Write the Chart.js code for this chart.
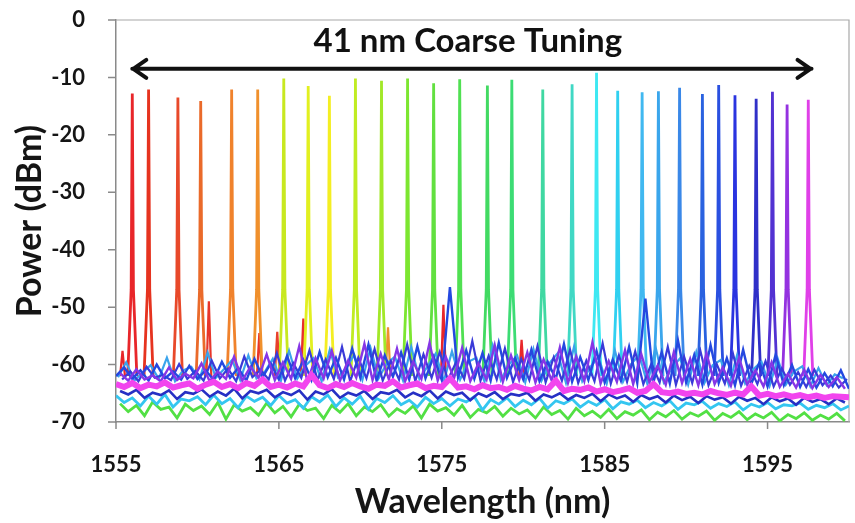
<!DOCTYPE html>
<html>
<head>
<meta charset="utf-8">
<script src="https://cdn.jsdelivr.net/npm/chart.js@4.4.1/dist/chart.umd.min.js"></script>
<style>
  html, body { margin: 0; padding: 0; background: #fff; }
  #wrap { width: 855px; height: 523px; }
</style>
</head>
<body>
<div id="wrap"><canvas id="spectrum"></canvas></div>
<script>
// axis ticks
const xTicks = [1555, 1565, 1575, 1585, 1595];
const yMin = -70;
const yMax = 0;

// lasing peaks (nm, dBm) left to right
const peakWl = [1556.0, 1557.0, 1558.8, 1560.2, 1562.1, 1563.7, 1565.3, 1566.8, 1568.1, 1569.7,
                1571.3, 1572.9, 1574.5, 1576.1, 1577.8, 1579.3, 1581.2, 1583.0, 1584.5, 1585.8,
                1587.3, 1588.3, 1589.6, 1591.0, 1592.0, 1593.0, 1594.3, 1595.3, 1596.2, 1597.5];
const peakPow = [-12.8, -12.1, -13.5, -14.1, -12.1, -12.1, -10.2, -11.5, -13.2, -10.2,
                 -10.6, -10.2, -11.0, -10.3, -11.4, -10.4, -12.1, -11.2, -9.2, -12.3,
                 -12.6, -12.4, -11.8, -12.9, -11.3, -13.1, -13.7, -12.5, -14.7, -13.9];
const peakColors = ['#e8262a', '#e6331f', '#e8492a', '#ea6a2a', '#f0822c', '#f0902c', '#c8e820', '#e2f020', '#f4ee22', '#c0ec22',
                    '#a2e828', '#7ce630', '#62e040', '#50e052', '#42da62', '#3cdc74', '#40d8a2', '#40d8c4', '#3ee8f2', '#30d0f0',
                    '#40b8f0', '#3aa6ec', '#3a88e8', '#2a62e0', '#2a50e0', '#2a34e0', '#3030c8', '#5232d2', '#9432e0', '#e040e8'];

// line shape of one peak: offsets in nm and the levels at foot and shoulder
const shapeDx = [-0.28, -0.07, 0, 0.07, 0.28];
const shapeFoot = -62;
const shapeShoulder = -47;

// weak side modes
const sideWl = [1555.4, 1560.7, 1563.8, 1564.9, 1566.5, 1571.7, 1575.1, 1579.9];
const sidePow = [-57.6, -49.0, -54.5, -54.3, -52.0, -53.5, -49.6, -55.7];
const sideColors = ['#e8262a', '#e8362a', '#e8362a', '#e8402a', '#e8302a', '#f0902c', '#e8262a', '#e8262a'];
const sideDx = [-0.15, 0, 0.15];

// noise floors, one value every 0.5 nm
const floorStep = 0.5;
const magentaFloor = [
  -63.4, -63.9, -63.2, -64.1, -63.5, -63.8, -63.1, -64.0, -63.6, -63.3,
  -64.2, -63.5, -63.0, -63.9, -63.4, -64.1, -63.2, -63.7, -62.6, -63.9,
  -63.5, -64.0, -63.3, -63.8, -61.8, -63.6, -64.1, -63.4, -63.9, -63.2,
  -63.8, -64.2, -63.5, -63.7, -62.9, -64.0, -63.6, -63.3, -64.1, -63.7,
  -63.9, -62.4, -64.0, -63.8, -64.3, -63.6, -64.1, -63.9, -64.4, -63.7,
  -64.2, -64.5, -63.9, -64.3, -62.8, -64.6, -64.2, -64.4, -64.0, -64.7,
  -64.3, -64.8, -64.5, -64.1, -64.9, -64.6, -63.4, -64.8, -65.0, -64.7,
  -65.1, -64.9, -65.2, -64.6, -65.0, -65.3, -64.9, -65.2, -63.8, -65.4,
  -65.1, -65.5, -65.2, -65.6, -65.3, -65.7, -65.4, -65.8, -65.5, -65.6,
  -65.7];
const blueFloor = [
  -62.0, -60.5, -62.5, -61.0, -62.8, -60.0, -62.4, -61.2, -62.6, -60.2,
  -62.5, -61.0, -62.7, -59.5, -62.3, -60.6, -62.8, -59.0, -62.2, -59.8,
  -62.6, -58.5, -62.4, -59.2, -62.7, -57.8, -62.2, -58.8, -62.6, -57.2,
  -62.3, -56.5, -62.8, -58.4, -62.1, -57.9, -62.6, -56.8, -62.4, -58.6,
  -62.7, -46.5, -62.2, -57.5, -62.5, -58.0, -62.8, -56.2, -62.3, -58.9,
  -62.6, -57.4, -62.9, -59.5, -62.5, -56.4, -63.0, -58.7, -62.7, -57.6,
  -63.1, -59.2, -62.8, -56.9, -63.2, -48.5, -63.0, -57.8, -63.3, -55.8,
  -63.1, -58.3, -63.5, -56.6, -63.2, -58.9, -63.6, -57.4, -63.4, -59.6,
  -63.8, -58.2, -63.6, -60.1, -63.9, -60.8, -64.0, -61.5, -63.8, -61.0,
  -64.2];
const cyanFloor = [
  -65.4, -66.6, -65.8, -67.2, -65.5, -66.9, -65.2, -67.4, -66.0, -66.3,
  -65.6, -67.0, -65.3, -66.8, -65.9, -67.5, -65.5, -66.4, -65.7, -67.1,
  -65.4, -66.7, -66.1, -67.6, -65.6, -66.5, -65.3, -67.3, -65.8, -66.9,
  -65.5, -67.8, -65.9, -66.6, -65.4, -67.0, -66.2, -67.4, -65.7, -66.8,
  -65.9, -67.2, -66.0, -66.5, -65.6, -67.9, -66.1, -66.9, -65.8, -67.3,
  -66.2, -67.0, -65.9, -67.6, -66.3, -66.8, -66.0, -67.4, -66.4, -67.1,
  -66.1, -67.7, -66.5, -66.9, -66.2, -67.5, -66.6, -67.2, -66.3, -67.8,
  -66.7, -67.0, -66.4, -67.6, -66.8, -67.3, -66.5, -67.9, -66.9, -67.4,
  -66.6, -67.7, -67.0, -67.2, -66.7, -67.8, -67.1, -67.5, -66.8, -67.9,
  -67.2];
// these start at 1555.25, half way between the ones above
const purpleFloor = [
  -61.5, -62.8, -60.8, -62.6, -61.9, -62.9, -60.5, -62.7, -61.6, -62.4,
  -59.8, -62.9, -61.2, -62.5, -58.6, -62.8, -60.4, -62.3, -58.2, -62.7,
  -59.6, -62.5, -56.8, -62.9, -58.9, -62.4, -57.6, -62.8, -59.3, -62.3,
  -56.4, -62.7, -58.1, -62.6, -57.2, -62.9, -59.5, -62.5, -56.2, -62.8,
  -58.7, -62.4, -57.1, -62.9, -59.8, -62.6, -56.6, -63.0, -58.4, -62.7,
  -57.9, -63.1, -59.1, -62.8, -57.0, -63.2, -58.6, -62.9, -56.1, -63.3,
  -59.4, -63.0, -57.5, -63.4, -58.2, -63.1, -60.2, -63.5, -57.8, -63.2,
  -59.0, -63.6, -58.0, -63.4, -60.5, -63.7, -58.8, -63.5, -61.0, -63.8,
  -59.6, -63.9, -61.6, -64.0, -60.9, -64.1, -61.8, -63.9, -62.2, -64.2];
const indigoFloor = [
  -64.6, -65.2, -64.4, -65.8, -64.9, -65.3, -64.5, -66.0, -64.8, -65.1,
  -64.3, -65.6, -64.7, -65.4, -64.2, -65.9, -64.6, -65.0, -64.4, -65.7,
  -64.8, -65.3, -64.5, -66.1, -64.7, -65.2, -64.3, -65.8, -64.9, -65.4,
  -64.6, -66.0, -64.8, -65.1, -64.4, -65.7, -64.9, -65.5, -64.5, -65.9,
  -64.7, -65.3, -64.9, -66.2, -65.0, -65.6, -64.8, -66.0, -65.1, -65.4,
  -64.9, -66.3, -65.2, -65.7, -65.0, -66.1, -65.3, -65.8, -65.1, -66.4,
  -65.2, -65.9, -65.4, -66.5, -65.3, -66.0, -65.5, -66.6, -65.4, -66.2,
  -65.6, -66.7, -65.5, -66.1, -65.7, -66.8, -65.6, -66.3, -65.8, -66.9,
  -65.7, -66.4, -65.9, -67.0, -65.8, -66.5, -66.0, -66.9, -65.9, -66.6];
const greenFloor = [
  -66.8, -68.2, -67.1, -68.9, -66.5, -67.8, -67.4, -69.3, -66.9, -68.0,
  -67.2, -68.7, -66.6, -69.5, -67.0, -68.1, -67.5, -68.8, -66.7, -68.4,
  -67.3, -69.1, -66.9, -68.0, -67.6, -69.4, -67.1, -68.3, -66.8, -68.9,
  -67.4, -68.2, -67.0, -69.0, -67.7, -68.5, -67.2, -69.3, -66.9, -68.1,
  -67.5, -68.8, -67.1, -69.2, -67.8, -68.4, -67.3, -69.0, -67.6, -68.6,
  -67.9, -69.3, -67.4, -68.7, -68.0, -69.5, -67.6, -68.9, -68.1, -69.2,
  -67.8, -69.4, -68.2, -68.8, -67.9, -69.6, -68.3, -69.1, -68.0, -69.5,
  -68.4, -69.0, -68.1, -69.7, -68.5, -69.2, -68.2, -69.6, -68.6, -69.3,
  -68.3, -69.8, -68.7, -69.4, -68.4, -69.7, -68.8, -69.5, -68.5, -69.8];
// start at 1555.125
const skyFloor = [
  -62.2, -59.6, -62.8, -61.4, -60.1, -62.5, -58.8, -62.9, -61.0, -60.4,
  -62.6, -57.9, -62.3, -60.8, -59.2, -62.7, -58.4, -62.4, -61.3, -59.0,
  -62.8, -57.6, -62.5, -60.2, -58.9, -62.9, -57.4, -62.2, -60.6, -58.3,
  -62.7, -57.1, -62.4, -59.8, -58.6, -62.8, -56.9, -62.5, -60.3, -58.1,
  -62.9, -57.7, -62.6, -59.5, -58.8, -63.0, -56.7, -62.7, -60.0, -58.4,
  -63.1, -57.3, -62.8, -59.7, -58.0, -63.2, -56.8, -62.9, -60.4, -58.7,
  -63.3, -57.5, -63.0, -59.9, -58.3, -63.4, -57.0, -63.1, -60.6, -58.9,
  -63.5, -57.8, -63.2, -60.1, -59.2, -63.6, -58.4, -63.3, -60.8, -59.5,
  -63.7, -59.0, -63.5, -61.2, -60.3, -63.8, -60.6, -63.6, -61.7, -62.4];
// start at 1555.375
const violetFloor = [
  -62.6, -61.2, -62.9, -60.4, -62.3, -61.8, -62.7, -59.9, -62.5, -61.1,
  -62.8, -59.3, -62.4, -60.7, -62.9, -58.6, -62.2, -60.9, -62.6, -58.0,
  -62.8, -59.7, -62.3, -57.5, -62.7, -59.1, -62.5, -56.9, -62.9, -58.8,
  -62.4, -57.3, -62.8, -59.4, -62.6, -56.5, -62.9, -58.2, -62.3, -57.8,
  -62.7, -59.6, -62.5, -55.9, -62.8, -58.5, -62.6, -57.2, -63.0, -59.0,
  -62.7, -56.8, -63.1, -58.7, -62.8, -57.4, -63.2, -59.3, -62.9, -56.3,
  -63.3, -58.4, -63.0, -57.7, -63.4, -59.8, -63.1, -56.9, -63.5, -58.6,
  -63.2, -57.6, -63.6, -59.9, -63.3, -58.1, -63.7, -60.2, -63.4, -59.4,
  -63.8, -60.7, -63.5, -61.3, -63.9, -60.9, -63.6, -61.9, -64.0, -62.5];

// arrow and its label (in data units)
const arrowFrom = 1556.0;
const arrowTo = 1597.7;
const arrowLevel = -8.5;
const bannerText = '41 nm Coarse Tuning';
const bannerWl = 1576.6;
const bannerLevel = -3.8;

function floorPoints(values, start) {
    return values.map((v, i) => ({ x: start + i * floorStep, y: v }));
}

function linePoints(wl, top) {
    const levels = [shapeFoot, shapeShoulder, top, shapeShoulder, shapeFoot];
    return shapeDx.map((dx, i) => ({ x: wl + dx, y: levels[i] }));
}

function sidePoints(wl, top) {
    const levels = [shapeFoot, top, shapeFoot];
    return sideDx.map((dx, i) => ({ x: wl + dx, y: levels[i] }));
}

function floorSet(values, start, color, width) {
    return {
        data: floorPoints(values, start),
        borderColor: color,
        borderWidth: width,
        pointRadius: 0
    };
}

// first in the list is drawn on top
const datasets = [
    floorSet(magentaFloor, 1555, '#f244ee', 6),
    floorSet(purpleFloor, 1555.25, '#8636e6', 2.4),
    floorSet(blueFloor, 1555, '#2448e0', 2.4),
    floorSet(violetFloor, 1555.375, '#3a3ad8', 2.2),
    floorSet(skyFloor, 1555.125, '#3aa4ec', 2.2),
    floorSet(indigoFloor, 1555.25, '#2630c4', 2.6)
];

peakWl.forEach((wl, i) => {
    datasets.push({
        data: linePoints(wl, peakPow[i]),
        borderColor: peakColors[i],
        borderWidth: 2.8,
        pointRadius: 0
    });
});

sideWl.forEach((wl, i) => {
    datasets.push({
        data: sidePoints(wl, sidePow[i]),
        borderColor: sideColors[i],
        borderWidth: 2.2,
        pointRadius: 0
    });
});

datasets.push(floorSet(cyanFloor, 1555, '#34c6f0', 2.8));
datasets.push(floorSet(greenFloor, 1555.25, '#52e044', 2.8));

const axisGrey = '#8a8a8a';

const overlay = {
    id: 'overlay',
    beforeDatasetsDraw(chart) {
        const { ctx, chartArea: a, scales: { x, y } } = chart;
        ctx.save();
        ctx.strokeStyle = '#a8a8a8';
        ctx.lineWidth = 1.2;
        ctx.beginPath();
        ctx.moveTo(a.left, a.top);
        ctx.lineTo(a.right, a.top);
        ctx.lineTo(a.right, a.bottom);
        ctx.stroke();

        // short tick marks (the scale's own ticks are long and hidden to push the labels out)
        ctx.strokeStyle = axisGrey;
        ctx.lineWidth = 1.5;
        ctx.beginPath();
        x.ticks.forEach(t => {
            const px = x.getPixelForValue(t.value);
            ctx.moveTo(px, a.bottom);
            ctx.lineTo(px, a.bottom + 7);
        });
        y.ticks.forEach(t => {
            const py = y.getPixelForValue(t.value);
            ctx.moveTo(a.left - 8, py);
            ctx.lineTo(a.left, py);
        });
        ctx.stroke();
        ctx.restore();
    },
    afterDatasetsDraw(chart) {
        const { ctx, scales: { x, y } } = chart;
        const x1 = x.getPixelForValue(arrowFrom);
        const x2 = x.getPixelForValue(arrowTo);
        const yy = y.getPixelForValue(arrowLevel);

        ctx.save();
        ctx.strokeStyle = '#111';
        ctx.lineWidth = 4;
        ctx.lineCap = 'round';
        ctx.lineJoin = 'round';
        ctx.beginPath();
        ctx.moveTo(x1, yy);
        ctx.lineTo(x2, yy);
        ctx.moveTo(x1 + 14, yy - 9);
        ctx.lineTo(x1 + 1, yy);
        ctx.lineTo(x1 + 14, yy + 9);
        ctx.moveTo(x2 - 14, yy - 9);
        ctx.lineTo(x2 - 1, yy);
        ctx.lineTo(x2 - 14, yy + 9);
        ctx.stroke();

        ctx.fillStyle = '#111';
        ctx.font = 'bold 33px Lato';
        ctx.textAlign = 'center';
        ctx.textBaseline = 'middle';
        ctx.fillText(bannerText, x.getPixelForValue(bannerWl), y.getPixelForValue(bannerLevel));
        ctx.restore();
    }
};

const tickFont = { family: 'Lato', size: 22, weight: 'bold' };
const titleFont = { family: 'Lato', size: 34, weight: 'bold' };

new Chart(document.getElementById('spectrum'), {
    type: 'line',
    data: { datasets },
    options: {
        animation: false,
        responsive: true,
        maintainAspectRatio: false,
        layout: { padding: { top: 20, right: 6, left: 0, bottom: 0 } },
        elements: { line: { tension: 0 } },
        plugins: {
            legend: { display: false },
            tooltip: { enabled: false }
        },
        scales: {
            x: {
                type: 'linear',
                min: 1555,
                max: 1600,
                afterBuildTicks: s => { s.ticks = xTicks.map(v => ({ value: v })); },
                afterFit: s => { s.height = 101; },
                ticks: { font: tickFont, color: '#151515', padding: 0, maxRotation: 0, callback: v => String(v) },
                grid: { drawOnChartArea: false, tickLength: 30, tickColor: 'rgba(0,0,0,0)' },
                border: { color: axisGrey, width: 1.5 },
                title: { display: true, text: 'Wavelength (nm)', font: titleFont, color: '#151515', padding: { top: 0, bottom: 1 } }
            },
            y: {
                min: yMin,
                max: yMax,
                afterFit: s => {
                    s.width = 116;
                    // keep the plot top where the picture has it
                    s.paddingTop = 0;
                    s.paddingBottom = 0;
                },
                ticks: { stepSize: 10, font: tickFont, color: '#151515', padding: 0, callback: v => String(v) },
                grid: { drawOnChartArea: false, tickLength: 31, tickColor: 'rgba(0,0,0,0)' },
                border: { color: axisGrey, width: 1.5 },
                title: { display: true, text: 'Power (dBm)', font: titleFont, color: '#151515', padding: { top: 10, bottom: 0 } }
            }
        }
    },
    plugins: [overlay]
});
</script>
</body>
</html>
